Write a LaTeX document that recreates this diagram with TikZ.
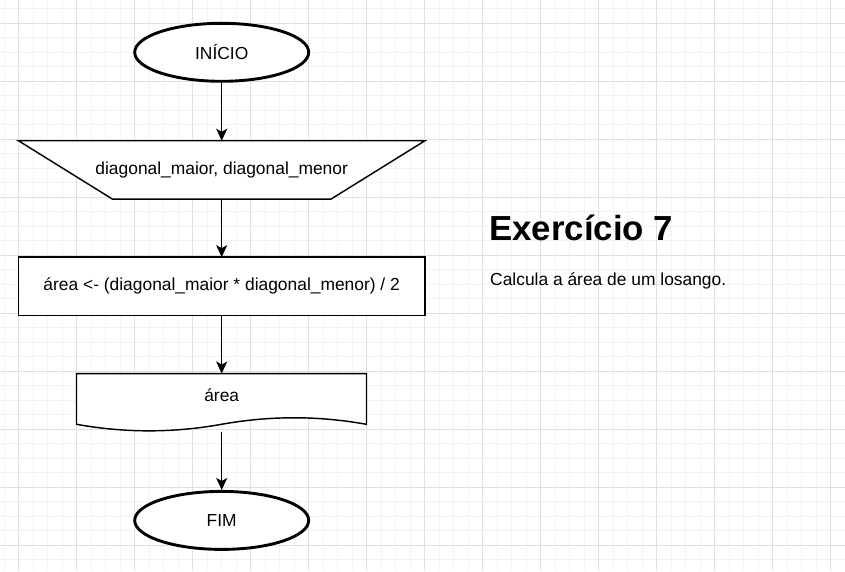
\documentclass[tikz,border=0pt]{standalone}
\usepackage{fontspec}
\setmainfont{Liberation Sans}
\usetikzlibrary{arrows.meta, positioning, shapes.geometric, backgrounds}
\definecolor{gridmajor}{HTML}{E0E0E0}
\definecolor{gridminor}{HTML}{F3F3F3}

\begin{document}
\begin{tikzpicture}[
  x=1pt, y=-1pt,
  node distance=58pt,
  every node/.style={font=\fontsize{17.4}{21}\selectfont},
  terminal/.style={draw, fill=white, ellipse, line width=2.9pt,
                   minimum width=174pt, minimum height=58pt, inner sep=0pt},
  caixa/.style={minimum width=406pt, minimum height=58pt, inner sep=0pt},
  contorno/.style={draw=black, fill=white, line width=1.45pt},
  seta/.style={-{Stealth[length=12pt, width=11pt, inset=3pt]}, line width=1.45pt}
]
  \useasboundingbox (0,0) rectangle (845,571);

  % Grid
  \begin{scope}[on background layer]
    \fill[white] (0,0) rectangle (845,571);
    \foreach \gx in {4.2,18.7,...,845} \draw[gridminor, line width=1pt] (\gx,0) -- (\gx,571);
    \foreach \gy in {8.8,23.3,...,571} \draw[gridminor, line width=1pt] (0,\gy) -- (845,\gy);
    \foreach \gx in {18.7,76.7,...,845} \draw[gridmajor, line width=1pt] (\gx,0) -- (\gx,571);
    \foreach \gy in {23.3,81.3,...,571} \draw[gridmajor, line width=1pt] (0,\gy) -- (845,\gy);
  \end{scope}

  % Flowchart
  \node[terminal] (inicio) at (221.7,52.3) {INÍCIO};
  \node[caixa, below=of inicio] (entrada) {diagonal\_maior, diagonal\_menor};
  \node[caixa, below=of entrada] (calculo) {área <- (diagonal\_maior * diagonal\_menor) / 2};
  \node[caixa, minimum width=290pt, text depth=16pt, below=of calculo] (saida) {área};
  \node[terminal, below=of saida] (fim) {FIM};

  % Shapes behind the texts
  \begin{scope}[on background layer]
    \draw[contorno] (entrada.north west) -- (entrada.north east)
      -- ([xshift=-94pt]entrada.south east) -- ([xshift=94pt]entrada.south west) -- cycle;
    \draw[contorno] (calculo.north west) rectangle (calculo.south east);
    \begin{scope}[shift={(saida.north west)}]
      \draw[contorno] (0,0) -- (290,0) -- (290,50.75)
        .. controls (241.67,42.05) and (193.33,42.05) .. (145,50.75)
        .. controls (96.67,59.45) and (48.33,59.45) .. (0,50.75) -- cycle;
    \end{scope}
  \end{scope}

  % Arrows
  \draw[seta] (inicio) -- (entrada);
  \draw[seta] (entrada) -- (calculo);
  \draw[seta] (calculo) -- (saida);
  \draw[seta] (saida) -- (fim);

  % Title
  \node[anchor=base west, inner sep=0pt, font=\bfseries\fontsize{34.8}{40}\selectfont]
    (titulo) at (489,240) {Exercício 7};
  \node[anchor=base west, inner sep=0pt] (descricao) at (490,285.7) {Calcula a área de um losango.};
\end{tikzpicture}
\end{document}
